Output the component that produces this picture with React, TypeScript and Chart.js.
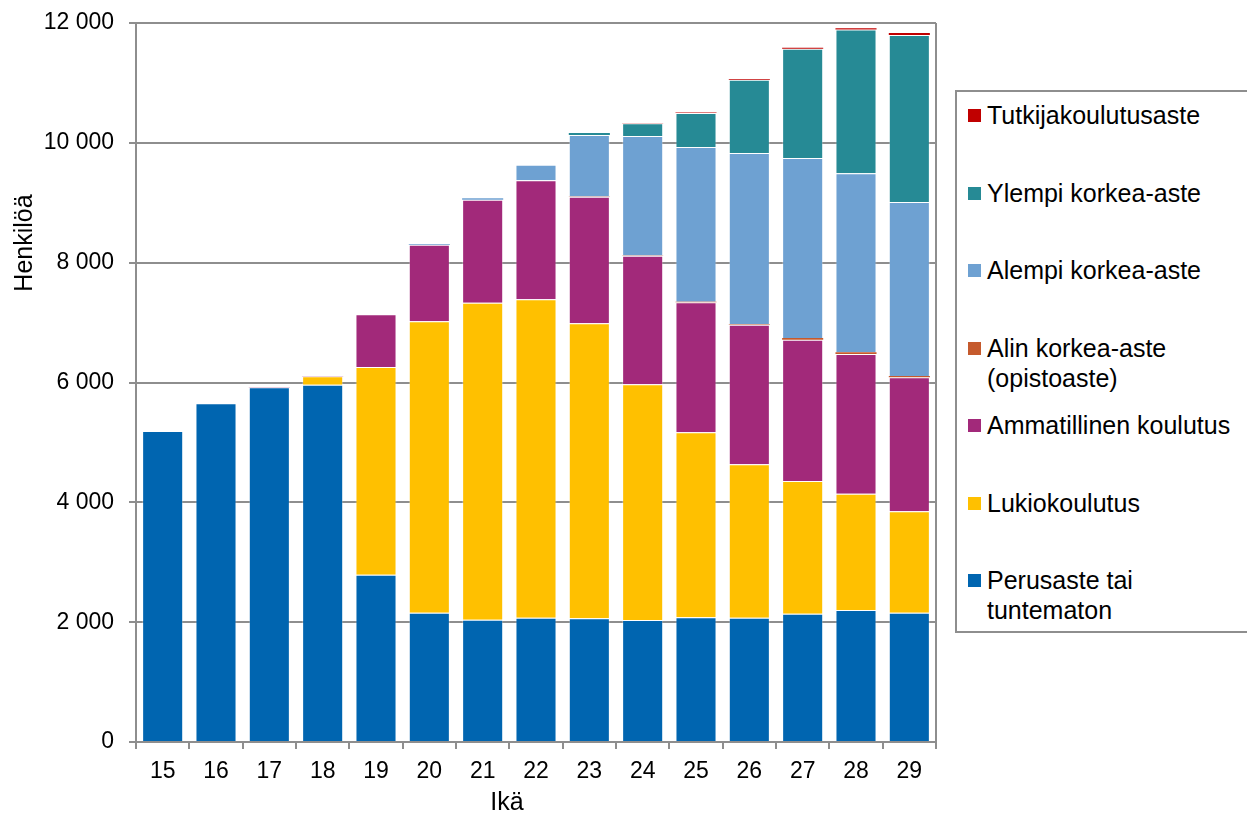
import React, { useEffect, useRef } from 'react';
import { Chart, registerables } from 'chart.js';

Chart.register(...registerables);

const ages = ['15', '16', '17', '18', '19', '20', '21', '22', '23', '24', '25', '26', '27', '28', '29'];

const perusaste = [5190, 5652, 5919, 5963, 2793, 2158, 2041, 2074, 2064, 2036, 2081, 2075, 2142, 2203, 2158];
const lukio = [0, 0, 0, 140, 3465, 4863, 5291, 5314, 4924, 3933, 3088, 2559, 2214, 1941, 1692];
const ammatillinen = [0, 0, 5, 7, 880, 1279, 1718, 1986, 2112, 2147, 2171, 2331, 2359, 2331, 2236];
const alinKorkea = [0, 0, 0, 0, 0, 0, 0, 0, 3, 5, 8, 8, 27, 28, 22];
const alempiKorkea = [0, 0, 0, 0, 0, 10, 27, 260, 1027, 1992, 2582, 2857, 3004, 2988, 2904];
const ylempiKorkea = [0, 0, 0, 0, 0, 0, 0, 0, 34, 212, 567, 1223, 1824, 2402, 2787];
const tutkija = [0, 0, 0, 0, 0, 0, 0, 0, 0, 5, 10, 12, 17, 18, 34];

const seriesLabels = [
  'Perusaste tai\ntuntematon',
  'Lukiokoulutus',
  'Ammatillinen koulutus',
  'Alin korkea-aste\n(opistoaste)',
  'Alempi korkea-aste',
  'Ylempi korkea-aste',
  'Tutkijakoulutusaste',
];
const seriesColors = ['#0065b0', '#ffc000', '#a2297a', '#c55a2d', '#6ea1d2', '#268a95', '#c00000'];
const seriesData = [perusaste, lukio, ammatillinen, alinKorkea, alempiKorkea, ylempiKorkea, tutkija];

const yMax = 12000;
const yStep = 2000;
const xTitle = 'Ikä';
const yTitle = 'Henkilöä';

const FONT = '"Liberation Sans", Arial, sans-serif';
const GRID = '#8e8e8e';

const fmt = (v: number) => String(v).replace(/\B(?=(\d{3})+(?!\d))/g, ' ');

const decorPlugin = {
  id: 'decor',
  afterDraw(chart: any) {
    const { ctx, chartArea } = chart;
    ctx.save();
    ctx.strokeStyle = GRID;
    ctx.lineWidth = 2;
    ctx.beginPath();
    ctx.moveTo(chartArea.right, chartArea.top);
    ctx.lineTo(chartArea.right, chartArea.bottom);
    ctx.stroke();
    ctx.fillStyle = '#000';
    ctx.font = `25px ${FONT}`;
    ctx.textAlign = 'center';
    ctx.textBaseline = 'middle';
    ctx.fillText(xTitle, 507, 803);
    ctx.translate(25, 243);
    ctx.rotate(-Math.PI / 2);
    ctx.fillText(yTitle, 0, 0);
    ctx.restore();
  },
};

function ChartView() {
  const ref = useRef<HTMLCanvasElement>(null);
  useEffect(() => {
    if (!ref.current) return;
    const chart = new Chart(ref.current, {
      type: 'bar',
      data: {
        labels: ages,
        datasets: seriesData.map((d, i) => ({
          label: seriesLabels[i],
          data: d,
          backgroundColor: seriesColors[i],
          borderColor: 'rgba(255,255,255,0.3)',
          borderWidth: (c: any) => (c.raw < 40 ? 0 : 1),
          barPercentage: 0.77,
          categoryPercentage: 1,
        })),
      },
      options: {
        responsive: false,
        animation: false,
        layout: { padding: { top: 23, right: 311, bottom: 0, left: 0 } },
        plugins: {
          legend: { display: false },
          tooltip: { enabled: false },
          title: { display: false },
        },
        scales: {
          x: {
            stacked: true,
            afterFit: (s: any) => {
              s.height = 74;
            },
            grid: {
              display: true,
              drawOnChartArea: false,
              drawTicks: true,
              tickLength: 7,
              color: GRID,
              lineWidth: 2,
              offset: true,
            },
            border: { display: true, color: GRID, width: 2 },
            ticks: {
              color: '#000',
              font: { family: FONT, size: 23 },
              padding: 9,
              maxRotation: 0,
            },
          },
          y: {
            stacked: true,
            min: 0,
            max: yMax,
            afterFit: (s: any) => {
              s.width = 136;
              s.paddingTop = 0;
              s.paddingBottom = 0;
            },
            grid: {
              color: GRID,
              lineWidth: 2,
              drawTicks: true,
              tickLength: 7,
            },
            border: { display: true, color: GRID, width: 2 },
            ticks: {
              stepSize: yStep,
              color: '#000',
              font: { family: FONT, size: 23 },
              padding: 15,
              callback: (v: any) => fmt(Number(v)),
            },
          },
        },
      },
      plugins: [decorPlugin],
    });
    return () => chart.destroy();
  }, []);
  return <canvas ref={ref} width={1247} height={816} style={{ display: 'block' }} />;
}

export default function App() {
  const order = seriesLabels.map((_, i) => i).reverse();
  return (
    <div
      style={{
        position: 'fixed',
        left: 0,
        top: 0,
        width: 1247,
        height: 816,
        overflow: 'hidden',
        background: '#fff',
      }}
    >
      <ChartView />
      <div
        style={{
          position: 'absolute',
          left: 955,
          top: 90,
          width: 320,
          height: 543,
          border: `2px solid ${GRID}`,
          boxSizing: 'border-box',
          background: '#fff',
        }}
      >
        {order.map((idx, k) => (
          <div
            key={idx}
            style={{
              position: 'absolute',
              left: 11,
              top: 8 + k * 77.5,
              display: 'flex',
              alignItems: 'flex-start',
            }}
          >
            <span
              style={{
                display: 'inline-block',
                width: 13,
                height: 13,
                background: seriesColors[idx],
                marginTop: 9,
                marginRight: 6,
                flex: '0 0 auto',
              }}
            />
            <span
              style={{
                fontFamily: FONT,
                fontSize: 25,
                lineHeight: '30px',
                color: '#000',
                whiteSpace: 'pre',
              }}
            >
              {seriesLabels[idx]}
            </span>
          </div>
        ))}
      </div>
    </div>
  );
}
